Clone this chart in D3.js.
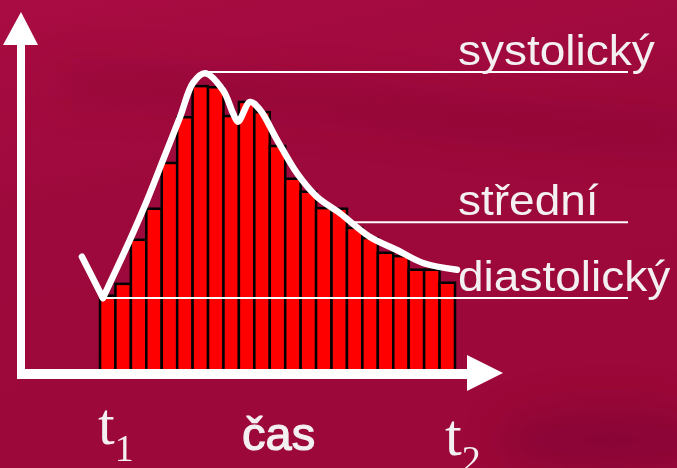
<!DOCTYPE html>
<html>
<head>
<meta charset="utf-8">
<script src="https://cdnjs.cloudflare.com/ajax/libs/d3/7.8.5/d3.min.js"></script>
<style>
html, body { margin: 0; padding: 0; background: #9e0a3c; overflow: hidden; }
</style>
</head>
<body>
<div id="chart"></div>
<script>
// pressure of each bar between t1 and t2 (mmHg)
var barValues = [80.4, 82.5, 90.3, 95.8, 103.9, 112.0, 117.5, 117.3, 112.2, 114.7, 112.9,
    106.9, 101.1, 98.8, 95.9, 95.8, 92.4, 90.6, 88.0, 87.4, 85.0, 85.0, 82.7];

// the pressure curve, time in bar units
var curveTime = [-1.17, 0.19, 1.94, 3.05, 4.08, 5.18, 6.03, 6.80, 7.97, 8.62, 8.94,
    9.72, 10.37, 11.47, 12.76, 14.06, 15.55, 17.49, 19.24, 20.93, 23.13];
var curvePressure = [87.3, 80.0, 90.3, 97.3, 104.4, 112.0, 118.1, 119.8, 116.8, 112.7, 111.2,
    114.7, 113.3, 108.0, 102.1, 97.9, 95.0, 90.8, 88.5, 86.2, 85.0];

var levelNames = ['systolický', 'střední', 'diastolický'];
var levelValues = [120, 93.4, 80];

var tickNames = ['t', 't'];
var tickSubs = ['1', '2'];
var axisTitle = 'čas';

var width = 677, height = 468;
var axisX = 21, axisY = 374, lineEnd = 628;

var x = d3.scaleLinear().domain([0, barValues.length]).range([100, 455]);
var y = d3.scaleLinear().domain([80, 120]).range([298, 72]);

var svg = d3.select('#chart').append('svg')
    .attr('width', width)
    .attr('height', height);

// background
var defs = svg.append('defs');
var grad = defs.append('linearGradient').attr('id', 'bg')
    .attr('x1', 0).attr('y1', 0).attr('x2', 0.3).attr('y2', 1);
grad.append('stop').attr('offset', '0%').attr('stop-color', '#a90c42');
grad.append('stop').attr('offset', '45%').attr('stop-color', '#9d093c');
grad.append('stop').attr('offset', '100%').attr('stop-color', '#9c0839');
defs.append('filter').attr('id', 'blur')
    .attr('x', '-50%').attr('y', '-50%').attr('width', '200%').attr('height', '200%')
    .append('feGaussianBlur').attr('stdDeviation', 18);

svg.append('rect').attr('width', width).attr('height', height).attr('fill', 'url(#bg)');
var shade = svg.append('g').attr('filter', 'url(#blur)');
shade.append('path')
    .attr('d', 'M60,70 C250,60 450,110 690,120 L690,150 C450,140 250,100 60,100 Z')
    .attr('fill', '#7c0431').attr('opacity', 0.3);
shade.append('ellipse')
    .attr('cx', 610).attr('cy', 440).attr('rx', 110).attr('ry', 35)
    .attr('fill', '#74022d').attr('opacity', 0.4);

// bars
svg.append('g').selectAll('rect')
    .data(barValues)
    .enter()
    .append('rect')
    .attr('x', function (d, i) { return x(i) })
    .attr('y', function (d) { return y(d) })
    .attr('width', function (d, i) { return x(i + 1) - x(i) })
    .attr('height', function (d) { return axisY - y(d) })
    .style('fill', '#ff0000')
    .style('stroke', '#000')
    .style('stroke-width', '2.5px');

// level lines
var curve = curveTime.map(function (t, i) { return [t, curvePressure[i]] });
var iMax = d3.maxIndex(curvePressure);
var iMin = d3.minIndex(curvePressure);
function crossing(level) {
    for (var i = iMax; i < curve.length - 1; i++) {
        var a = curve[i], b = curve[i + 1];
        if (a[1] >= level && b[1] <= level) {
            return a[0] + (a[1] - level) / (a[1] - b[1]) * (b[0] - a[0]);
        }
    }
    return curve[iMax][0];
}
var levelStart = [curve[iMax][0], crossing(levelValues[1]), curve[iMin][0]];

svg.append('g').selectAll('line')
    .data(levelValues)
    .enter()
    .append('line')
    .attr('x1', function (d, i) { return x(levelStart[i]) })
    .attr('x2', lineEnd)
    .attr('y1', function (d) { return y(d) })
    .attr('y2', function (d) { return y(d) })
    .style('stroke', '#fff')
    .style('stroke-width', '2px');

// pressure curve
var notch = d3.line()
    .x(function (d) { return x(d[0]) })
    .y(function (d) { return y(d[1]) });
var smooth = d3.line()
    .x(function (d) { return x(d[0]) })
    .y(function (d) { return y(d[1]) })
    .curve(d3.curveCatmullRom.alpha(0.5));
var cg = svg.append('g')
    .style('fill', 'none')
    .style('stroke', '#fff')
    .style('stroke-width', '6.5px')
    .style('stroke-linecap', 'round')
    .style('stroke-linejoin', 'round');
cg.append('path').attr('d', notch(curve.slice(0, iMin + 1)));
cg.append('path').attr('d', smooth(curve.slice(iMin)));

// axes with arrows
var ax = svg.append('g').style('fill', '#fff');
ax.append('line')
    .attr('x1', axisX).attr('x2', axisX).attr('y1', 40).attr('y2', axisY + 4.5)
    .style('stroke', '#fff').style('stroke-width', '8px');
ax.append('line')
    .attr('x1', axisX - 4).attr('x2', 470).attr('y1', axisY).attr('y2', axisY)
    .style('stroke', '#fff').style('stroke-width', '10px');
ax.append('path').attr('d', 'M' + axisX + ',12 L' + (axisX + 17) + ',45 L' + (axisX - 18) + ',45 Z');
ax.append('path').attr('d', 'M503,' + (axisY - 1) + ' L467,' + (axisY - 19) + ' L467,' + (axisY + 17) + ' Z');

// level labels
svg.append('g').selectAll('text')
    .data(levelNames)
    .enter()
    .append('text')
    .attr('transform', function (d, i) {
        return 'translate(458,' + (y(levelValues[i]) - 7) + ') scale(1.07,1)';
    })
    .style('font-family', 'Liberation Sans, Arial, sans-serif')
    .style('font-size', '43px')
    .style('fill', '#f4f0f2')
    .text(function (d) { return d });

// time labels
var tl = svg.append('g')
    .style('font-family', 'Liberation Serif, Times New Roman, serif')
    .style('fill', '#f4f0f2');
[0, barValues.length].forEach(function (t, i) {
    var tx = x(t) - (i === 0 ? 2 : 10);
    var ty = i === 0 ? 444 : 455;
    var txt = tl.append('text').attr('x', tx).attr('y', ty).style('font-size', '60px');
    txt.append('tspan').text(tickNames[i]);
    txt.append('tspan').attr('dy', 17).style('font-size', '38px').text(tickSubs[i]);
});

svg.append('text')
    .attr('x', 242).attr('y', 450)
    .style('font-family', 'Liberation Sans, Arial, sans-serif')
    .style('font-size', '47px')
    .style('fill', '#f4f0f2')
    .style('stroke', '#f4f0f2')
    .style('stroke-width', '1.2px')
    .text(axisTitle);
</script>
</body>
</html>
